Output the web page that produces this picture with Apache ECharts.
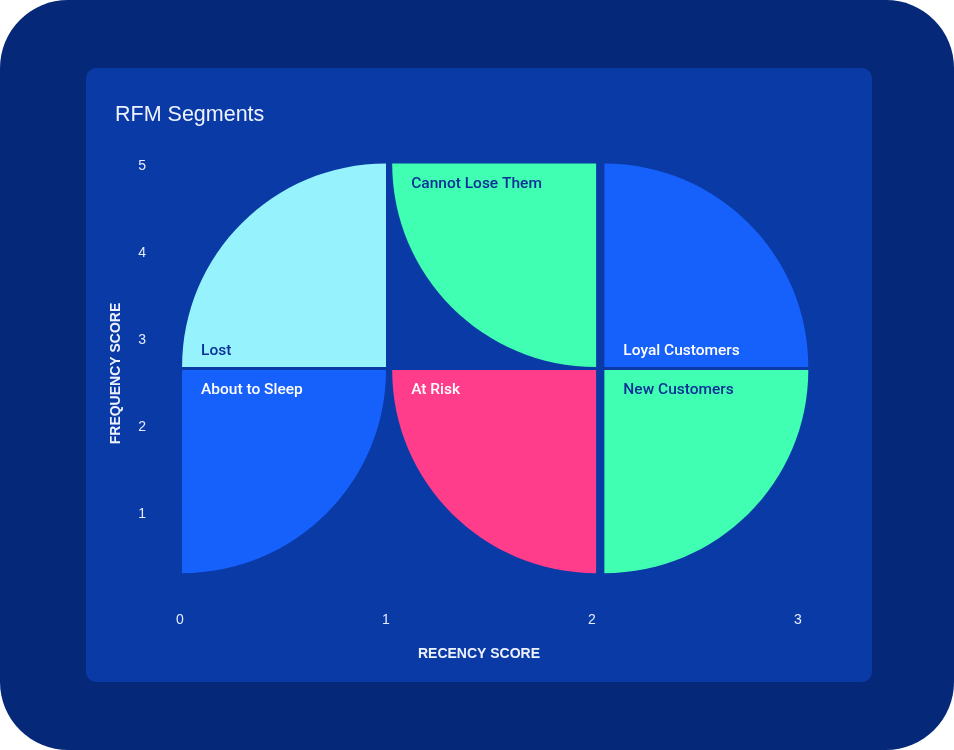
<!DOCTYPE html>
<html>
<head>
<meta charset="utf-8">
<script src="https://cdn.jsdelivr.net/npm/echarts@6/dist/echarts.min.js"></script>
<style>
  html, body { margin: 0; padding: 0; background: #ffffff; }
  #chart { width: 954px; height: 750px; }
</style>
</head>
<body>
<div id="chart"></div>
<script>
// ---- data ----
const segments = ['Lost', 'About to Sleep', 'Cannot Lose Them', 'At Risk', 'Loyal Customers', 'New Customers'];
const recencyFrom = [0.01, 0.01, 1.03, 1.03, 2.06, 2.06];
const recencyTo = [1.00, 1.00, 2.02, 2.02, 3.05, 3.05];
const frequencyFrom = [2.69, 0.32, 2.69, 0.32, 2.69, 0.32];
const frequencyTo = [5.03, 2.655, 5.03, 2.655, 5.03, 2.655];
const recencyTicks = [0, 1, 2, 3];
const frequencyTicks = [0, 1, 2, 3, 4, 5];

// ---- styles (not data) ----
const segmentStyle = {
  'Lost':             { color: '#96f3fd', text: '#0a3096', corner: 'br' },
  'About to Sleep':   { color: '#1660fb', text: '#ffffff', corner: 'tl' },
  'Cannot Lose Them': { color: '#40ffb2', text: '#0a3096', corner: 'tr' },
  'At Risk':          { color: '#ff3d8a', text: '#ffffff', corner: 'tr' },
  'Loyal Customers':  { color: '#1660fb', text: '#ffffff', corner: 'bl' },
  'New Customers':    { color: '#40ffb2', text: '#0a3096', corner: 'tl' }
};

const seriesData = segments.map((name, i) => ({
  name: name,
  value: [recencyFrom[i], frequencyFrom[i], recencyTo[i], frequencyTo[i]]
}));

const K = 0.5523;

function renderItem(params, api) {
  const name = segments[params.dataIndex];
  const st = segmentStyle[name];
  const p0 = api.coord([api.value(0), api.value(3)]);
  const p1 = api.coord([api.value(2), api.value(1)]);
  const left = p0[0], top = p0[1], right = p1[0], bottom = p1[1];
  const w = right - left, h = bottom - top;
  let cx, cy, sx, sy;
  switch (st.corner) {
    case 'br': cx = right; cy = bottom; sx = -1; sy = -1; break;
    case 'bl': cx = left; cy = bottom; sx = 1; sy = -1; break;
    case 'tr': cx = right; cy = top; sx = -1; sy = 1; break;
    default:   cx = left; cy = top; sx = 1; sy = 1; break;
  }
  const ax = cx + sx * w, ay = cy;
  const bx = cx, by = cy + sy * h;
  const d = 'M' + cx + ' ' + cy +
    ' L' + ax + ' ' + ay +
    ' C' + ax + ' ' + (ay + sy * h * K) + ' ' + (cx + sx * w * K) + ' ' + by + ' ' + bx + ' ' + by +
    ' Z';
  const labelY = (st.corner[0] === 't') ? top + 20.5 : bottom - 16;
  return {
    type: 'group',
    children: [
      { type: 'path', shape: { pathData: d }, style: { fill: st.color } },
      {
        type: 'text',
        style: {
          text: name,
          x: left + 19,
          y: labelY,
          fill: st.text,
          fontSize: 15.5,
          fontWeight: 500,
          fontFamily: 'Roboto, "Liberation Sans", Arial, sans-serif',
          align: 'left',
          verticalAlign: 'middle'
        }
      }
    ]
  };
}

const chart = echarts.init(document.getElementById('chart'), null, { renderer: 'canvas' });
chart.setOption({
  backgroundColor: 'transparent',
  animation: false,
  graphic: [
    { type: 'rect', z: -10, shape: { x: 0, y: 0, width: 954, height: 750, r: 68 }, style: { fill: '#052878' } },
    { type: 'rect', z: -9, shape: { x: 86, y: 68, width: 786, height: 614, r: 10 }, style: { fill: '#093aa5' } }
  ],
  title: {
    text: 'RFM Segments',
    left: 115,
    top: 104,
    padding: 0,
    textStyle: {
      color: '#eef2ff',
      fontSize: 21.5,
      fontWeight: 'normal',
      fontFamily: '"Liberation Sans", Arial, sans-serif'
    }
  },
  grid: { left: 180, right: 156, top: 166, bottom: 149, containLabel: false },
  xAxis: {
    type: 'value',
    min: recencyTicks[0],
    max: recencyTicks[recencyTicks.length - 1],
    interval: 1,
    name: 'RECENCY SCORE',
    nameLocation: 'middle',
    nameGap: 46,
    nameTextStyle: {
      color: '#eef2ff',
      fontSize: 14,
      fontWeight: 'bold',
      fontFamily: '"Liberation Sans", Arial, sans-serif',
      padding: [0, 20, 0, 0]
    },
    axisLine: { show: false },
    axisTick: { show: false },
    splitLine: { show: false },
    axisLabel: {
      color: '#e6ecff',
      fontSize: 14,
      margin: 12,
      fontFamily: '"Liberation Sans", Arial, sans-serif'
    }
  },
  yAxis: {
    type: 'value',
    min: frequencyTicks[0],
    max: frequencyTicks[frequencyTicks.length - 1],
    interval: 1,
    name: 'FREQUENCY SCORE',
    nameLocation: 'middle',
    nameGap: 57,
    nameTextStyle: {
      color: '#eef2ff',
      fontSize: 14,
      fontWeight: 'bold',
      fontFamily: '"Liberation Sans", Arial, sans-serif',
      padding: [0, 0, 0, 20]
    },
    axisLine: { show: false },
    axisTick: { show: false },
    splitLine: { show: false },
    axisLabel: {
      color: '#e6ecff',
      fontSize: 14,
      margin: 34,
      showMinLabel: false,
      fontFamily: '"Liberation Sans", Arial, sans-serif'
    }
  },
  series: [{
    type: 'custom',
    renderItem: renderItem,
    encode: { x: [0, 2], y: [1, 3] },
    data: seriesData
  }]
});
</script>
</body>
</html>
